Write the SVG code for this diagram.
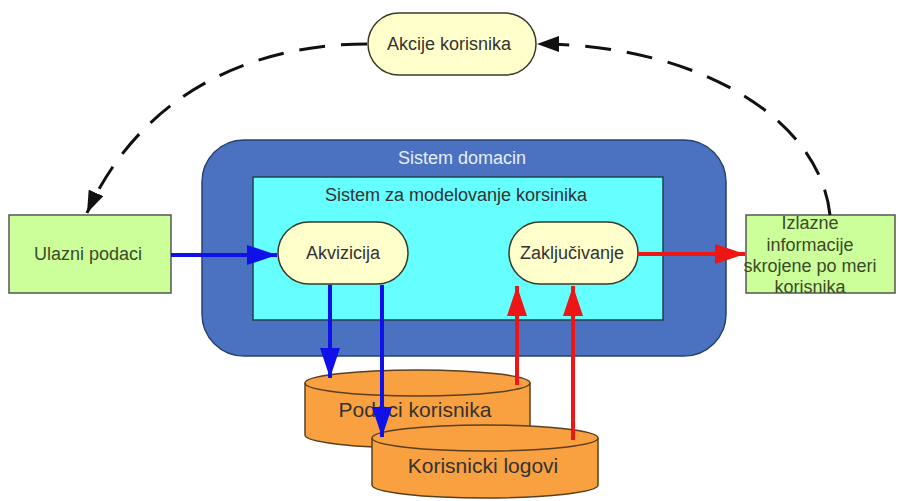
<svg xmlns="http://www.w3.org/2000/svg" width="899" height="501" viewBox="0 0 899 501">
<defs>
<style>
text{font-family:"Liberation Sans",Arial,sans-serif;font-size:18px;text-anchor:middle;dominant-baseline:central;fill:#333}
.big{font-size:21px}
.pill{fill:#FFFFCC;stroke:#3a3a2a;stroke-width:1.5}
.green{fill:#CCFF99;stroke:#555;stroke-width:1.5}
.cyl{fill:#F9A040;stroke:#5a4020;stroke-width:1.5}
.dash{fill:none;stroke:#111;stroke-width:3;stroke-dasharray:26 16}
.blue{stroke:#1010E8;stroke-width:4;fill:none}
.red{stroke:#EE1515;stroke-width:4;fill:none}
</style>
<marker id="ab" viewBox="0 0 30 20" refX="30" refY="10" markerWidth="30" markerHeight="20" orient="auto" markerUnits="userSpaceOnUse"><path d="M0,0L30,10L0,20z" fill="#1010E8"/></marker>
<marker id="ar" viewBox="0 0 30 20" refX="30" refY="10" markerWidth="30" markerHeight="20" orient="auto" markerUnits="userSpaceOnUse"><path d="M0,0L30,10L0,20z" fill="#EE1515"/></marker>
<marker id="ak" viewBox="0 0 22 16" refX="22" refY="8" markerWidth="22" markerHeight="16" orient="auto" markerUnits="userSpaceOnUse"><path d="M0,0L22,8L0,16z" fill="#111"/></marker>
</defs>
<rect width="899" height="501" fill="#fff"/>
<g id="sistem-domacin">
<rect x="202" y="140" width="524" height="216" rx="42" fill="#4A72C0" stroke="#2a4070" stroke-width="1.5"/>
<text x="462" y="158" style="fill:#E6EEFF">Sistem domacin</text>
</g>
<g id="sistem-modelovanje">
<rect x="253" y="177" width="410" height="143" fill="#66FFFF" stroke="#244050" stroke-width="1.5"/>
<text x="456" y="195">Sistem za modelovanje korsinika</text>
</g>
<g id="akcije">
<rect x="368" y="13" width="168" height="62" rx="31" class="pill"/>
<text x="449" y="44">Akcije korisnika</text>
</g>
<g id="ulazni">
<rect x="9" y="215" width="162" height="78" class="green"/>
<text x="88" y="254" style="fill:#3a4a2a">Ulazni podaci</text>
</g>
<g id="izlazne">
<rect x="746" y="215" width="149" height="78" class="green"/>
<text x="810" y="223" style="fill:#3a4a2a">Izlazne</text>
<text x="810" y="245" style="fill:#3a4a2a">informacije</text>
<text x="810" y="266" style="fill:#3a4a2a">skrojene po meri</text>
<text x="810" y="287" style="fill:#3a4a2a">korisnika</text>
</g>
<g id="akvizicija">
<rect x="278" y="222" width="130" height="62" rx="31" class="pill"/>
<text x="343" y="253">Akvizicija</text>
</g>
<g id="zakljucivanje">
<rect x="509" y="222" width="129" height="62" rx="31" class="pill"/>
<text x="572" y="253">Zaključivanje</text>
</g>
<g id="podaci-korisnika">
<path d="M305,383 V435 A112.5,13 0 0 0 530,435 V383" class="cyl"/>
<ellipse cx="417.5" cy="383" rx="112.5" ry="13" class="cyl"/>
<text x="415" y="409" class="big">Podaci korisnika</text>
</g>
<g id="korisnicki-logovi">
<path d="M372,438 V485 A113,13 0 0 0 598,485 V438" class="cyl"/>
<ellipse cx="485" cy="438" rx="113" ry="13" class="cyl"/>
<text x="483" y="465" class="big">Korisnicki logovi</text>
</g>
<g id="connectors">
<path d="M367,44 C250,44 140,95 87,213" class="dash" marker-end="url(#ak)"/>
<path d="M830,215 C820,120 700,44 537,44" class="dash" marker-end="url(#ak)"/>
<path d="M171,255 H277" class="blue" marker-end="url(#ab)"/>
<path d="M638,254 H745" class="red" marker-end="url(#ar)"/>
<path d="M330,285 V378" class="blue" marker-end="url(#ab)"/>
<path d="M382,285 V437" class="blue" marker-end="url(#ab)"/>
<path d="M517,385 V286" class="red" marker-end="url(#ar)"/>
<path d="M573,440 V286" class="red" marker-end="url(#ar)"/>
</g>
</svg>
